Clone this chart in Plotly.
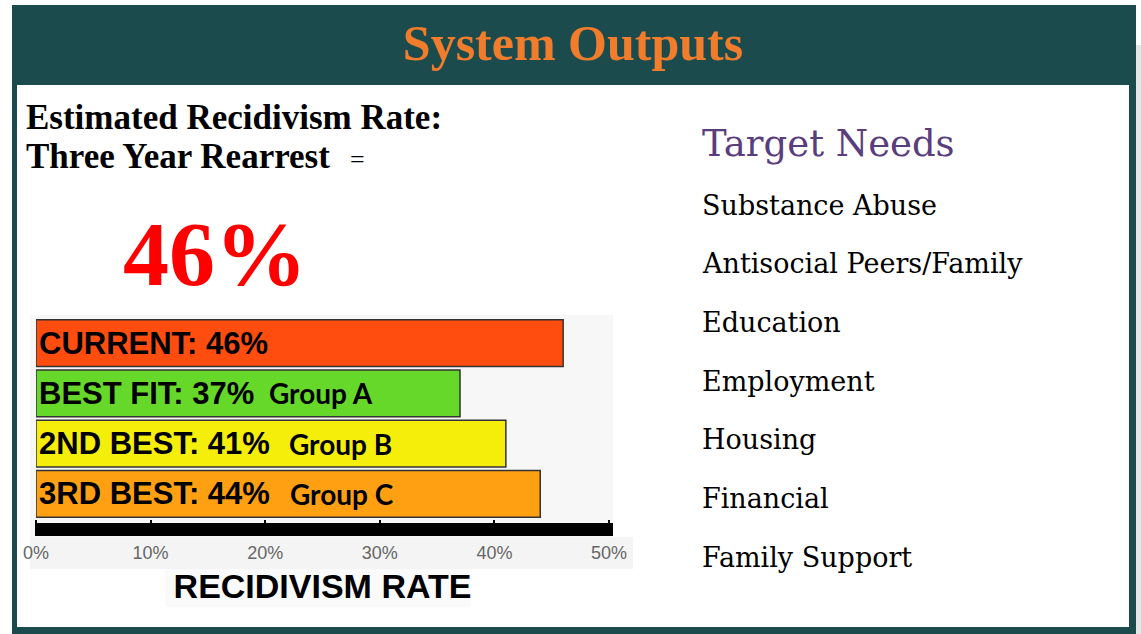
import plotly.graph_objects as go

W, H = 1141, 634

# ---- data ----
categories = ["CURRENT", "BEST FIT", "2ND BEST", "3RD BEST"]
rates = [46, 37, 41, 44]
groups = ["", "Group A", "Group B", "Group C"]
bar_colors = ["#ff4d0f", "#66d829", "#f4ee0a", "#ffa012"]
tick_vals = [0, 10, 20, 30, 40, 50]
tick_text = ["0%", "10%", "20%", "30%", "40%", "50%"]
needs = ["Substance Abuse", "Antisocial Peers/Family", "Education",
         "Employment", "Housing", "Financial", "Family Support"]

TEAL = "#1b4b4d"


def px(x):
    return x / W


def py(y):
    return 1 - y / H


fig = go.Figure()
fig.add_trace(go.Bar(
    y=categories, x=rates, orientation="h",
    marker=dict(color=bar_colors, line=dict(color="#333333", width=1.5)),
    text=[f"{c}: {r}%" for c, r in zip(categories, rates)],
    textposition="inside", insidetextanchor="start",
    textfont=dict(family="Liberation Sans, Arial", size=31, color="black", weight="bold"),
    constraintext="none", cliponaxis=False, hoverinfo="skip",
))

shapes = []
def rect(x0, y0, x1, y1, color, layer="below"):
    shapes.append(dict(type="rect", xref="paper", yref="paper",
                       x0=px(x0), x1=px(x1), y0=py(y1), y1=py(y0),
                       fillcolor=color, line=dict(width=0), layer=layer))

# frame
rect(1136, 45, 1141, 634, "#e6e6e6")
rect(12, 5, 1136, 634, TEAL)
rect(17, 85, 1129, 627, "white")
# chart backgrounds
rect(30, 315, 613, 537, "#f7f7f7")
rect(30, 537, 633, 569, "#f4f4f4")
rect(165, 569, 470, 607, "#fafafa")
# black axis band
rect(35, 523, 613, 536, "black", layer="below")

annotations = []
def text(x, y, s, size, color="black", family="Liberation Serif", bold=False,
         xanchor="left", yanchor="middle"):
    annotations.append(dict(x=px(x), y=py(y), xref="paper", yref="paper",
                            text=(f"<b>{s}</b>" if bold else s), showarrow=False,
                            xanchor=xanchor, yanchor=yanchor,
                            font=dict(family=family, size=size, color=color)))

text(24, 118, "Estimated Recidivism Rate:", 35, bold=True)
text(24, 156, "Three Year Rearrest", 35, bold=True)
text(348, 159, "=", 26)
text(215, 254, "46%", 92, color="#ff0000", bold=True, xanchor="center")

text(700, 143, "Target Needs", 37, color="#5a3d7d", family="DejaVu Serif")
for i, n in enumerate(needs):
    text(700, 205 + i * 58.7, n, 27, family="DejaVu Serif")

# group labels inside bars
group_x = [0, 267, 287, 288]
for i, g in enumerate(groups):
    if g:
        annotations.append(dict(x=px(group_x[i]), y=categories[i], xref="paper", yref="y",
                                text=f"<b>{g}</b>", showarrow=False, xanchor="left",
                                yanchor="middle",
                                font=dict(family="Lato", size=28, color="black")))

fig.update_layout(
    width=W, height=H, autosize=False,
    margin=dict(l=0, r=0, t=0, b=0, pad=0, autoexpand=False),
    paper_bgcolor="white", plot_bgcolor="rgba(0,0,0,0)",
    showlegend=False, bargap=0.07,
    title=dict(text="<b>System Outputs</b>", x=573 / W, xanchor="center",
               y=py(42), yanchor="middle", yref="paper",
               font=dict(family="Liberation Serif", size=50, color="#f07c2c")),
    xaxis=dict(domain=[px(36), px(609)], range=[0, 50], tickvals=tick_vals,
               ticktext=tick_text, ticks="outside", ticklen=5, tickcolor="black",
               tickwidth=2, showgrid=False, zeroline=False, showline=False,
               tickfont=dict(family="Liberation Sans, Arial", size=18, color="#666666"),
               ticklabelstandoff=12, automargin=False,
               title=dict(text="<b>RECIDIVISM RATE</b>", standoff=12,
                          font=dict(family="Liberation Sans, Arial",
                                    size=34, color="black"))),
    yaxis=dict(domain=[py(519), py(318)], autorange="reversed", showticklabels=False,
               showgrid=False, zeroline=False, showline=False, ticks="", automargin=False),
    shapes=shapes, annotations=annotations,
)

fig.write_html("out.html", config={"displayModeBar": False},
               post_script="document.body.style.margin='0';document.body.style.overflow='hidden';")
